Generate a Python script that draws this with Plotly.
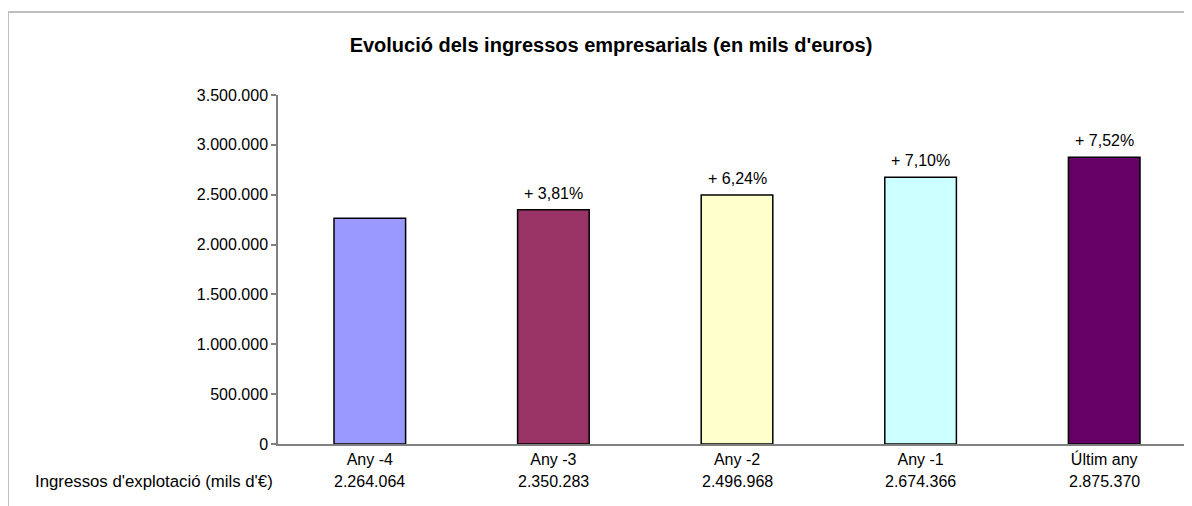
import plotly.graph_objects as go

categories = ["Any -4", "Any -3", "Any -2", "Any -1", "Últim any"]
values = [2264064, 2350283, 2496968, 2674366, 2875370]
value_labels = ["2.264.064", "2.350.283", "2.496.968", "2.674.366", "2.875.370"]
growth_labels = ["", "+ 3,81%", "+ 6,24%", "+ 7,10%", "+ 7,52%"]
bar_colors = ["#9999FF", "#993366", "#FFFFCC", "#CCFFFF", "#660066"]
y_ticks = [0, 500000, 1000000, 1500000, 2000000, 2500000, 3000000, 3500000]
row_label = "Ingressos d'explotació (mils d'€)"
title = "Evolució dels ingressos empresarials (en mils d'euros)"

FONT = "Liberation Sans, Arial, sans-serif"
FS = 16

# figure pixel layout (page has an 8px body margin)
L, T, B_PIX, W, H = 270, 87, 436, 1192, 506
PW = W - L
PH = B_PIX - T

fig = go.Figure()
fig.add_trace(go.Bar(
    x=categories, y=values,
    marker=dict(color=bar_colors, line=dict(color="#000000", width=1.5)),
    width=0.39,
    hoverinfo="skip",
))

ann = []
for c, v, g in zip(categories, values, growth_labels):
    if g:
        ann.append(dict(x=c, y=v, xref="x", yref="y", text=g, showarrow=False,
                        yanchor="bottom", yshift=6, font=dict(size=FS, color="#000")))
for c, lab in zip(categories, value_labels):
    ann.append(dict(x=c, y=(B_PIX - 473) / PH, xref="x", yref="paper", text=lab, showarrow=False,
                    yanchor="middle", font=dict(size=FS, color="#000")))
ann.append(dict(x=(267 - L) / PW, y=(B_PIX - 473) / PH, xref="paper", yref="paper",
                text=row_label, showarrow=False,
                xanchor="right", yanchor="middle", font=dict(size=16.8, color="#000")))

fig.update_layout(
    width=W, height=H,
    margin=dict(l=L, r=0, t=T, b=H - B_PIX, pad=0),
    paper_bgcolor="white", plot_bgcolor="white",
    separators=",.",
    showlegend=False,
    font=dict(family=FONT, size=FS, color="#000"),
    title=dict(text="<b>" + title + "</b>", x=603 / W, xanchor="center",
               y=1 - 37 / H, yanchor="middle", font=dict(size=20, color="#000")),
    annotations=ann,
    xaxis=dict(
        type="category", range=[-0.5, -0.5 + PW / 183.6],
        showline=True, linecolor="#808080", linewidth=1.5,
        ticks="", showgrid=False, zeroline=False,
        tickfont=dict(size=FS, color="#000"),
    ),
    yaxis=dict(
        range=[0, 3500000], tickvals=y_ticks, tickformat=",d",
        showline=True, linecolor="#808080", linewidth=1.5,
        ticks="outside", ticklen=5, tickcolor="#808080", tickwidth=1.5,
        showgrid=False, zeroline=False,
        tickfont=dict(size=FS, color="#000"),
    ),
    shapes=[dict(type="rect", xref="paper", yref="paper",
                 x0=(0 - L) / PW, x1=1.05, y0=-0.4, y1=(B_PIX - 4) / PH,
                 line=dict(color="#C0C0C0", width=2), fillcolor="rgba(0,0,0,0)", layer="below")],
)

fig.write_html("out.html")
